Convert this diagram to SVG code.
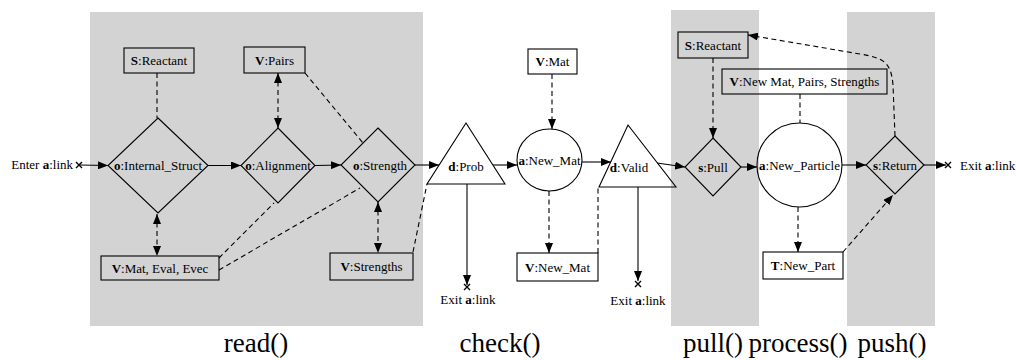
<svg xmlns="http://www.w3.org/2000/svg" width="1016" height="360" viewBox="0 0 1016 360" font-family="'Liberation Serif', 'Times New Roman', serif">
<style>
text{font-family:"Liberation Serif","Times New Roman",serif;font-size:13px;fill:#000}
.b{font-weight:bold}
.lab{font-size:27px}
.bg{fill:#d3d3d3;stroke:none}
.shape{fill:none;stroke:#000;stroke-width:1.1}
.c{fill:none;stroke:#000;stroke-width:1.1}
.d{stroke-dasharray:5,3.5}
.x{stroke:#000;stroke-width:1.4;fill:none}
</style>
<defs>
<marker id="arr" viewBox="0 0 10 8" refX="10" refY="4" markerWidth="10" markerHeight="8" markerUnits="userSpaceOnUse" orient="auto-start-reverse">
<path d="M0,0 L10,4 L0,8 Z" fill="#000"/>
</marker>
</defs>
<rect width="1016" height="360" fill="#fff"/>
<g id="regions">
<rect class="bg" x="90" y="12" width="333" height="314"/>
<rect class="bg" x="671" y="10" width="88" height="316"/>
<rect class="bg" x="847" y="12" width="88" height="314"/>
</g>
<g id="labels">
<text class="lab" x="256" y="352" text-anchor="middle">read()</text>
<text class="lab" x="500" y="352" text-anchor="middle">check()</text>
<text class="lab" x="713" y="352" text-anchor="middle">pull()</text>
<text class="lab" x="798" y="352" text-anchor="middle">process()</text>
<text class="lab" x="892" y="352" text-anchor="middle">push()</text>
</g>
<g id="enter"><text x="73" y="169" text-anchor="end">Enter <tspan class="b">a</tspan>:link</text></g>
<g id="internal_struct"><path class="shape" d="M158,118 L208,165.5 L158,213 L108,165.5 Z"/><text x="158" y="170" text-anchor="middle"><tspan class="b">o</tspan>:Internal_Struct</text></g>
<g id="reactant1"><rect class="shape" x="124" y="48" width="70" height="25"/><text x="159" y="65" text-anchor="middle"><tspan class="b">S</tspan>:Reactant</text></g>
<g id="mat_eval_evec"><rect class="shape" x="101" y="256" width="118" height="24"/><text x="160" y="272.5" text-anchor="middle"><tspan class="b">V</tspan>:Mat, Eval, Evec</text></g>
<g id="alignment"><path class="shape" d="M278,128 L315,165.5 L278,203 L241,165.5 Z"/><text x="278" y="170" text-anchor="middle"><tspan class="b">o</tspan>:Alignment</text></g>
<g id="pairs"><rect class="shape" x="244" y="47" width="61" height="26"/><text x="274.5" y="64.5" text-anchor="middle"><tspan class="b">V</tspan>:Pairs</text></g>
<g id="strength"><path class="shape" d="M378,128 L415,165 L378,202 L341,165 Z"/><text x="380" y="169.5" text-anchor="middle"><tspan class="b">o</tspan>:Strength</text></g>
<g id="strengths"><rect class="shape" x="330" y="253" width="83" height="27"/><text x="371.5" y="271" text-anchor="middle"><tspan class="b">V</tspan>:Strengths</text></g>
<g id="prob"><path class="shape" d="M466,123 L505,184 L427,184 Z"/><text x="466" y="171" text-anchor="middle"><tspan class="b">d</tspan>:Prob</text></g>
<g id="exit1"><text x="468" y="304" text-anchor="middle">Exit <tspan class="b">a</tspan>:link</text></g>
<g id="mat"><rect class="shape" x="528" y="49" width="49" height="25"/><text x="552.5" y="66" text-anchor="middle"><tspan class="b">V</tspan>:Mat</text></g>
<g id="new_mat_a"><ellipse class="shape" cx="549.5" cy="160" rx="32.5" ry="31"/><text x="549.5" y="164.5" text-anchor="middle"><tspan class="b">a</tspan>:New_Mat</text></g>
<g id="new_mat_v"><rect class="shape" x="517" y="253" width="81" height="28"/><text x="557.5" y="271.5" text-anchor="middle"><tspan class="b">V</tspan>:New_Mat</text></g>
<g id="valid"><path class="shape" d="M628,125 L676,187 L599,187 Z"/><text x="629" y="172" text-anchor="middle"><tspan class="b">d</tspan>:Valid</text></g>
<g id="exit2"><text x="638" y="305" text-anchor="middle">Exit <tspan class="b">a</tspan>:link</text></g>
<g id="reactant2"><rect class="shape" x="678" y="32" width="70" height="26"/><text x="713" y="49.5" text-anchor="middle"><tspan class="b">S</tspan>:Reactant</text></g>
<g id="pull"><path class="shape" d="M713,138 L741,167 L713,196 L685,167 Z"/><text x="713" y="171.5" text-anchor="middle"><tspan class="b">s</tspan>:Pull</text></g>
<g id="new_mat_pairs"><rect class="shape" x="722" y="69" width="165" height="25"/><text x="804.5" y="86" text-anchor="middle"><tspan class="b">V</tspan>:New Mat, Pairs, Strengths</text></g>
<g id="new_particle"><ellipse class="shape" cx="799.5" cy="165" rx="42.5" ry="42"/><text x="799.5" y="169.5" text-anchor="middle"><tspan class="b">a</tspan>:New_Particle</text></g>
<g id="new_part"><rect class="shape" x="763" y="252" width="80" height="27"/><text x="803" y="270" text-anchor="middle"><tspan class="b">T</tspan>:New_Part</text></g>
<g id="return"><path class="shape" d="M895,136 L924,165 L895,194 L866,165 Z"/><text x="895" y="169.5" text-anchor="middle"><tspan class="b">s</tspan>:Return</text></g>
<g id="exit3"><text x="960" y="169.5">Exit <tspan class="b">a</tspan>:link</text></g>
<g id="connectors">
<path class="x" d="M76,162 L82,168 M76,168 L82,162"/>
<path class="c" d="M79,165 L108,165.5" marker-end="url(#arr)"/>
<path class="c d" d="M157,73 L157,118"/>
<path class="c d" d="M157,214 L157,256" marker-start="url(#arr)" marker-end="url(#arr)"/>
<path class="c" d="M208,165.5 L241,165.5" marker-end="url(#arr)"/>
<path class="c d" d="M278,73 L278,128" marker-start="url(#arr)" marker-end="url(#arr)"/>
<path class="c" d="M315,165.5 L341,165" marker-end="url(#arr)"/>
<path class="c d" d="M305,73 L363,143"/>
<path class="c d" d="M219,258 L274,203"/>
<path class="c d" d="M219,270 L360,188"/>
<path class="c d" d="M378,202 L378,253" marker-start="url(#arr)" marker-end="url(#arr)"/>
<path class="c d" d="M413,252 L427,184"/>
<path class="c" d="M415,165 L439,165" marker-end="url(#arr)"/>
<path class="c" d="M467,184 L467,285" marker-end="url(#arr)"/>
<path class="x" d="M464,284 L470,290 M464,290 L470,284"/>
<path class="c" d="M493,165 L517,165" marker-end="url(#arr)"/>
<path class="c d" d="M552,74 L552,129" marker-end="url(#arr)"/>
<path class="c d" d="M549,191 L549,253" marker-end="url(#arr)"/>
<path class="c d" d="M598,253 L598,187"/>
<path class="c" d="M582,162 L611,162" marker-end="url(#arr)"/>
<path class="c" d="M638,187 L638,281" marker-end="url(#arr)"/>
<path class="x" d="M635,281 L641,287 M635,287 L641,281"/>
<path class="c" d="M657,163 L685,167" marker-end="url(#arr)"/>
<path class="c d" d="M713,58 L713,138" marker-end="url(#arr)"/>
<path class="c" d="M741,167 L757,167" marker-end="url(#arr)"/>
<path class="c d" d="M800,94 L800,123"/>
<path class="c d" d="M798,207 L798,252" marker-end="url(#arr)"/>
<path class="c" d="M842,165 L866,165" marker-end="url(#arr)"/>
<path class="c d" d="M895,136 L893,85 C891,62 884,58 860,54 L748,35" marker-end="url(#arr)"/>
<path class="c d" d="M843,252 L893,195" marker-end="url(#arr)"/>
<path class="c" d="M924,165 L946,165" marker-end="url(#arr)"/>
<path class="x" d="M945,162 L951,168 M945,168 L951,162"/>
</g>
</svg>
